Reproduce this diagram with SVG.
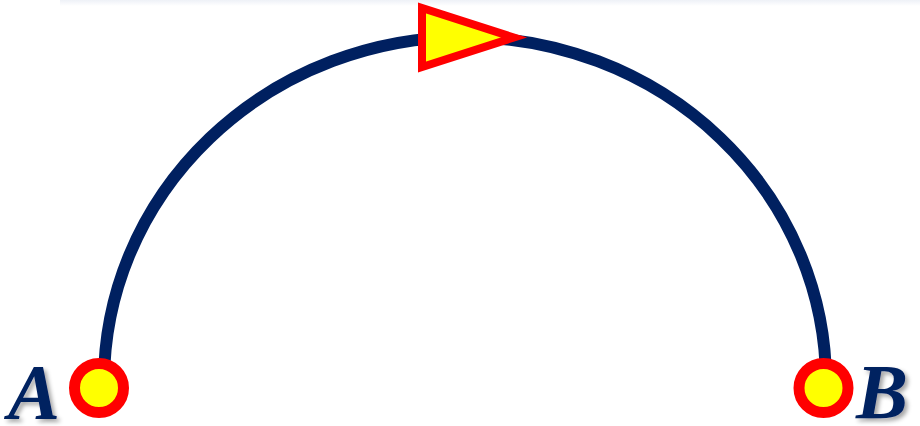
<svg xmlns="http://www.w3.org/2000/svg" width="920" height="426" viewBox="0 0 920 426">
<defs>
<linearGradient id="topband" x1="0" y1="0" x2="0" y2="1">
<stop offset="0" stop-color="#eef1f7"/>
<stop offset="1" stop-color="#ffffff"/>
</linearGradient>
<filter id="sh" x="-20%" y="-20%" width="150%" height="150%">
<feDropShadow dx="3" dy="3" stdDeviation="2" flood-color="#000" flood-opacity="0.35"/>
</filter>
<style>
.arc{fill:none;stroke:#002060;stroke-width:12}
.pt{fill:#ffff00;stroke:#ff0000;stroke-width:11}
.lbl{font-family:"Liberation Serif","DejaVu Serif",serif;font-weight:bold;font-style:italic;font-size:78px;fill:#002060}
</style>
</defs>
<rect x="0" y="0" width="920" height="426" fill="#ffffff"/>
<rect x="60" y="0" width="860" height="6" fill="url(#topband)"/>
<g id="connectors">
<path class="arc" d="M104,382 A361,345 0 0 1 826,382"/>
</g>
<g id="arrow">
<polygon points="422,8 422,67 514,37.5" fill="#ffff00" stroke="#ff0000" stroke-width="8" stroke-linejoin="miter"/>
</g>
<g id="nodeA">
<circle class="pt" cx="99" cy="388" r="24.5"/>
<text class="lbl" x="8" y="418" filter="url(#sh)">A</text>
</g>
<g id="nodeB">
<circle class="pt" cx="823.5" cy="388" r="24.5"/>
<text class="lbl" x="856" y="418" filter="url(#sh)">B</text>
</g>
</svg>
